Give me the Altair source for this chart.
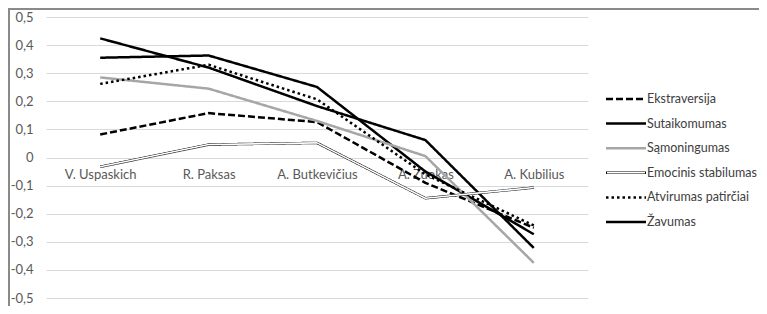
import altair as alt
import pandas as pd

candidates = ["V. Uspaskich", "R. Paksas", "A. Butkevičius", "A. Zuokas", "A. Kubilius"]
series_names = ["Ekstraversija", "Sutaikomumas", "Sąmoningumas",
                "Emocinis stabilumas", "Atvirumas patirčiai", "Žavumas"]

ekstraversija = [0.082, 0.158, 0.126, -0.09, -0.25]
sutaikomumas = [0.355, 0.363, 0.251, -0.05, -0.273]
samoningumas = [0.285, 0.245, 0.13, 0.005, -0.375]
emocinis = [-0.033, 0.046, 0.052, -0.145, -0.107]
atvirumas = [0.262, 0.33, 0.207, -0.06, -0.242]
zavumas = [0.424, 0.32, 0.183, 0.062, -0.322]

y_ticks = [-0.5, -0.4, -0.3, -0.2, -0.1, 0, 0.1, 0.2, 0.3, 0.4, 0.5]

all_values = [ekstraversija, sutaikomumas, samoningumas, emocinis, atvirumas, zavumas]
rows = []
for name, vals in zip(series_names, all_values):
    for c, v in zip(candidates, vals):
        rows.append({"series": name, "cand": c, "value": v})
df = pd.DataFrame(rows)
legend_df = pd.DataFrame({"series": series_names, "idx": list(range(len(series_names)))})
frame_df = pd.DataFrame({"a": [0]})

W, H = 542, 281
FONT = "Lato"
FS = 13

color_s = alt.Scale(domain=series_names,
                    range=["#000000", "#000000", "#a6a6a6", "#000000", "#000000", "#000000"])
dash_s = alt.Scale(domain=series_names,
                   range=[[7, 3], [1, 0], [1, 0], [1, 0], [2.5, 3], [1, 0]])
width_s = alt.Scale(domain=series_names, range=[2.5, 2.5, 2.5, 4.4, 2.5, 2.5])

x_enc = alt.X("cand:N", sort=candidates, title=None,
              scale=alt.Scale(type="point", padding=0.5),
              axis=alt.Axis(orient="bottom", offset=-H / 2, domain=False, ticks=False,
                            tickSize=0, labelPadding=17, labelBaseline="middle",
                            labelAngle=0, labelFontSize=FS, labelColor="#595959",
                            labelFont=FONT, grid=False, labelOverlap=False))
y_scale = alt.Scale(domain=[-0.5, 0.5], nice=False, zero=False)
y_enc = alt.Y("value:Q", title=None, scale=y_scale,
              axis=alt.Axis(values=y_ticks, domain=False, ticks=False, tickSize=0,
                            labelPadding=13, grid=True, gridColor="#d9d9d9", gridWidth=1,
                            labelFontSize=FS, labelColor="#595959", labelFont=FONT,
                            labelExpr="datum.value == 0 ? '0' : replace(toString(round(datum.value*10)/10), '.', ',')"))

frame = alt.Chart(frame_df).mark_rect(fill="transparent", stroke="#8a8a8a", strokeWidth=2).encode(
    x=alt.value(-37), x2=alt.value(760), y=alt.value(-8), y2=alt.value(400))

lines = alt.Chart(df).mark_line(strokeCap="butt", strokeJoin="round").encode(
    x=x_enc, y=y_enc,
    color=alt.Color("series:N", scale=color_s, legend=None),
    strokeDash=alt.StrokeDash("series:N", scale=dash_s, legend=None),
    strokeWidth=alt.StrokeWidth("series:O", scale=width_s, legend=None),
    detail="series:N")

inner = alt.Chart(df).transform_filter(
    alt.datum.series == "Emocinis stabilumas"
).mark_line(color="white", strokeWidth=1.6, strokeJoin="round").encode(
    x=x_enc, y=y_enc)

main = alt.layer(lines, inner)

leg_y = alt.Y("idx:Q", scale=alt.Scale(domain=[0, 5], range=[82, 205]), axis=None)

leg_rules = alt.Chart(legend_df).mark_rule(strokeCap="butt").encode(
    x=alt.value(560), x2=alt.value(600), y=leg_y,
    color=alt.Color("series:N", scale=color_s, legend=None),
    strokeDash=alt.StrokeDash("series:N", scale=dash_s, legend=None),
    strokeWidth=alt.StrokeWidth("series:O", scale=width_s, legend=None))

leg_inner = alt.Chart(legend_df).transform_filter(
    alt.datum.series == "Emocinis stabilumas"
).mark_rule(color="white", strokeWidth=1.6, strokeCap="butt").encode(
    x=alt.value(561), x2=alt.value(599), y=leg_y)

leg_text = alt.Chart(legend_df).mark_text(
    align="left", baseline="middle", font=FONT, fontSize=12.5, color="#404040"
).encode(x=alt.value(601), y=leg_y, text="series:N")

legend = alt.layer(leg_rules, leg_inner, leg_text)

chart = alt.layer(frame, main, legend).resolve_scale(
    y="independent"
).properties(
    width=W, height=H,
    autosize=alt.AutoSizeParams(type="none"),
    padding={"left": 38, "top": 9, "right": 751 - 38 - W, "bottom": 298 - 9 - H},
).configure_view(stroke=None)

chart.save("out.html", embed_options={"renderer": "svg", "actions": False})
